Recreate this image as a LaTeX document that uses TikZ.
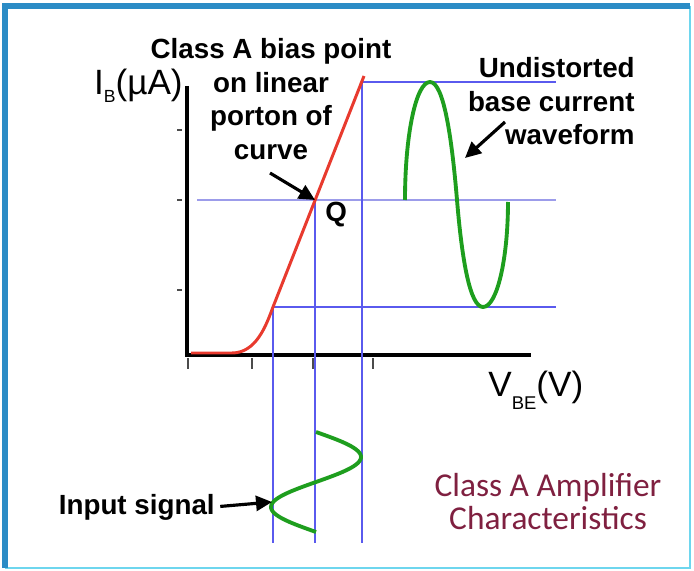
\documentclass[tikz,border=0pt]{standalone}
\usepackage{fontspec}
\setmainfont{Liberation Sans}
\newfontfamily\captionfont{Carlito}
\usetikzlibrary{arrows.meta,calc}
\definecolor{Frame}{HTML}{2B8CC6}
\definecolor{FrameLight}{HTML}{6ED6EE}
\definecolor{Load}{HTML}{5A5AEE}
\definecolor{LoadSoft}{HTML}{9C9CEA}
\definecolor{Curve}{HTML}{E83A2E}
\definecolor{Wave}{HTML}{1E9E1E}
\definecolor{Caption}{HTML}{7F2040}
\tikzset{
  axis/.style={line width=2.3pt, draw=black},
  tick/.style={line width=0.6pt, draw=black!70},
  projline/.style={line width=1.4pt, draw=Load},
  qline/.style={line width=1.2pt, draw=LoadSoft},
  transfer/.style={line width=1.7pt, draw=Curve},
  signal/.style={line width=2.2pt, draw=Wave},
  pointer/.style={-{Triangle[length=3.2mm,width=3mm]}, line width=1.8pt, draw=black},
  note/.style={inner sep=0pt, font=\fontsize{15.8}{19.2}\selectfont\bfseries, align=center},
  axislabel/.style={inner sep=0pt, font=\fontsize{20}{24}\selectfont},
  caption/.style={inner sep=0pt, text=Caption, align=center,
    font=\captionfont\fontsize{19}{18.7}\selectfont}
}

\begin{document}
\begin{tikzpicture}[x=0.02cm,y=-0.02cm]
  \useasboundingbox (0,0) rectangle (694,571);
  % frame
  \draw[FrameLight, line width=1.4pt] (5,568) -- (690,568) -- (690,6);
  \draw[Frame, line width=3pt] (5,568) -- (5,6) -- (690,6);

  % axes and ticks
  \coordinate (ytop) at (187,86);
  \coordinate (origin) at (187,355);
  \coordinate (xend) at (531,355);
  \draw[axis] (ytop) -- (origin) -- (xend);
  \foreach \y in {130,200,290}
    \draw[tick] (177,\y) -- (182,\y);
  \foreach \x in {188,252,313,373}
    \draw[tick] (\x,358) -- (\x,369);

  % operating points
  \coordinate (Q) at (315,200);
  \coordinate (knee) at (273,307);
  \coordinate (peak) at (362,82);

  % projection lines
  \draw[qline] (197,200) -- (Q) -- (556,200);
  \draw[projline] (knee) -- (556,307);
  \draw[projline] (peak) -- (556,82);
  \draw[projline] (knee) -- (273,543);
  \draw[projline] (Q) -- (315,543);
  \draw[projline] (peak) -- (362,543);

  % input characteristic
  \draw[transfer] (191,353) -- (232,353) .. controls (256,353) and (266,326) .. (knee) -- (364,76);

  % base current
  \draw[signal] (405,200) .. controls (405,135) and (416,82) .. (430,82)
    .. controls (444,82) and (452,140) .. (457,200)
    .. controls (462,260) and (470,307) .. (483,307)
    .. controls (497,307) and (508,259) .. (508,202);
  % input signal
  \draw[signal] plot[domain=0:100, samples=80, smooth]
    ({316+45*sin(\x*3.6)}, {432+\x});

  % labels
  \node[note, anchor=north] (bias) at (271,38) {Class A bias point\\on linear\\porton of\\curve};
  \node[note, anchor=north east, align=right] (shape) at (635,57) {Undistorted\\base current\\waveform};
  \node[note, anchor=base east] (input) at (215,514) {Input signal};
  \node[note, anchor=west] (qlabel) at (325,215) {Q};
  \node[axislabel, anchor=base east] (ib) at (183,95)
    {I\raisebox{-4pt}{\fontsize{10}{12}\selectfont B}(µA)};
  \node[axislabel, anchor=base west] (vbe) at (488,397)
    {V\raisebox{-7pt}{\fontsize{10.5}{12}\selectfont BE}(V)};
  \node[caption, anchor=north] (title) at (548,473) {Class A Amplifier\\Characteristics};

  % pointers
  \coordinate (biastail) at (270,173);
  \coordinate (wavetail) at (505,122);
  \coordinate (wavetip) at (465,158);
  \coordinate (inputtip) at (272,502);
  \draw[pointer] (biastail) -- (Q);
  \draw[pointer] (wavetail) -- (wavetip);
  \draw[pointer, shorten <=3pt] (input.east) -- (inputtip);
\end{tikzpicture}
\end{document}
